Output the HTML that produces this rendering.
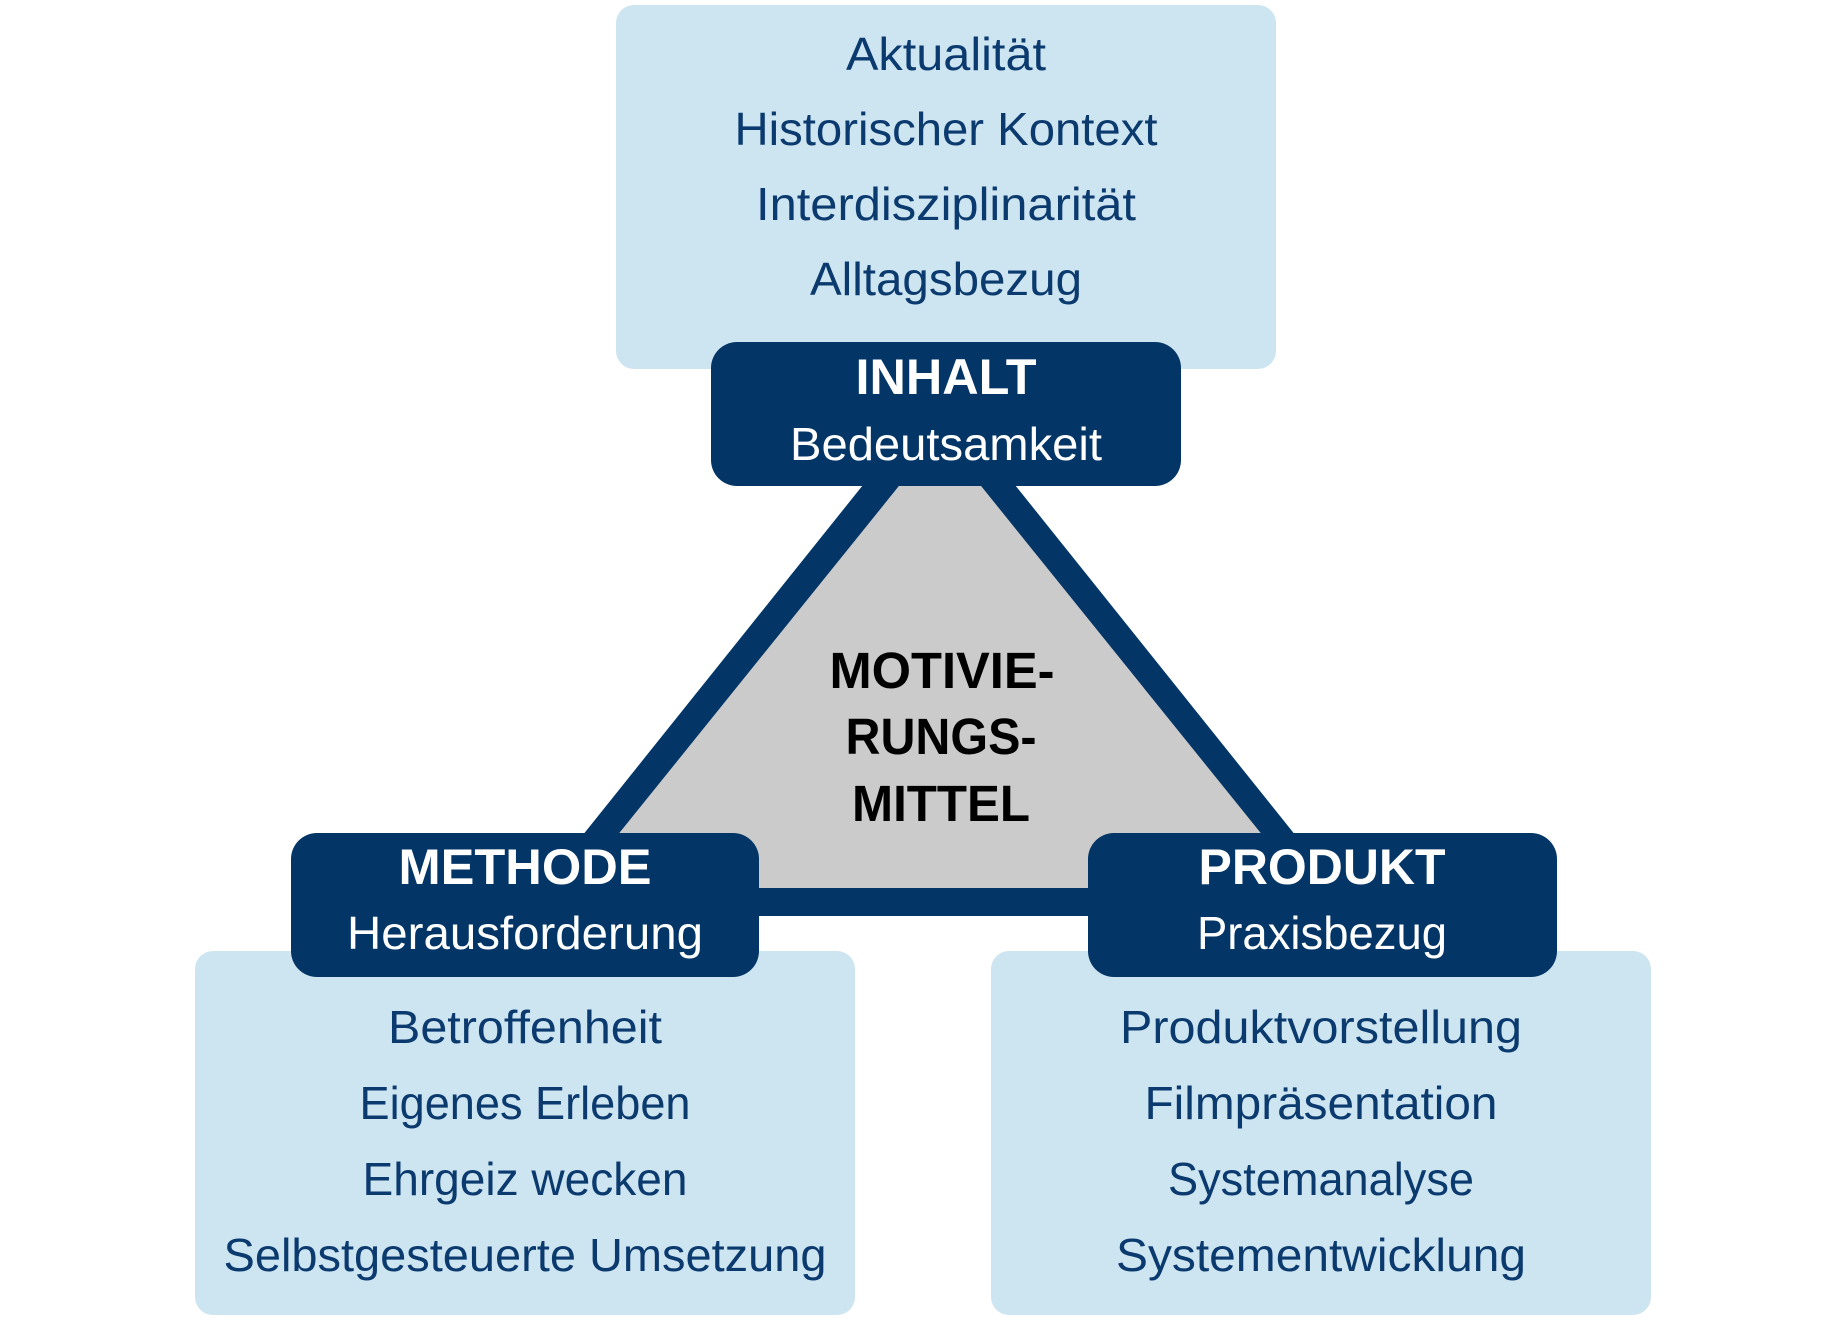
<!DOCTYPE html>
<html><head><meta charset="utf-8"><style>html,body{margin:0;padding:0;background:#fff}svg{display:block}</style></head>
<body>
<svg width="1843" height="1318" viewBox="0 0 1843 1318" xmlns="http://www.w3.org/2000/svg" font-family="'Liberation Sans', sans-serif">
<rect x="616" y="5" width="660" height="364" rx="18" fill="#cde4f1"/>
<rect x="195" y="951" width="660" height="364" rx="18" fill="#cde4f1"/>
<rect x="991" y="951" width="660" height="364" rx="18" fill="#cde4f1"/>
<polygon points="939,390 518,916 1360,916" fill="#033566"/>
<polygon points="940,435 575,888 1305,888" fill="#cbcbcb"/>
<rect x="711" y="342" width="470" height="144" rx="26" fill="#033566"/>
<rect x="291" y="833" width="468" height="144" rx="26" fill="#033566"/>
<rect x="1088" y="833" width="469" height="144" rx="26" fill="#033566"/>
<g fill="#0b3a6e" font-size="46" text-anchor="middle">
<text x="946" y="70" textLength="200" lengthAdjust="spacingAndGlyphs">Aktualität</text>
<text x="946" y="145" textLength="423" lengthAdjust="spacingAndGlyphs">Historischer Kontext</text>
<text x="946" y="220" textLength="380" lengthAdjust="spacingAndGlyphs">Interdisziplinarität</text>
<text x="946" y="295" textLength="272" lengthAdjust="spacingAndGlyphs">Alltagsbezug</text>
<text x="525" y="1043" textLength="274" lengthAdjust="spacingAndGlyphs">Betroffenheit</text>
<text x="525" y="1119" textLength="331" lengthAdjust="spacingAndGlyphs">Eigenes Erleben</text>
<text x="525" y="1195" textLength="325" lengthAdjust="spacingAndGlyphs">Ehrgeiz wecken</text>
<text x="525" y="1271" textLength="603" lengthAdjust="spacingAndGlyphs">Selbstgesteuerte Umsetzung</text>
<text x="1321" y="1043" textLength="402" lengthAdjust="spacingAndGlyphs">Produktvorstellung</text>
<text x="1321" y="1119" textLength="353" lengthAdjust="spacingAndGlyphs">Filmpräsentation</text>
<text x="1321" y="1195" textLength="306" lengthAdjust="spacingAndGlyphs">Systemanalyse</text>
<text x="1321" y="1271" textLength="410" lengthAdjust="spacingAndGlyphs">Systementwicklung</text>
</g>
<g fill="#ffffff" text-anchor="middle">
<text x="946" y="394" font-size="50" font-weight="bold" textLength="181" lengthAdjust="spacingAndGlyphs">INHALT</text>
<text x="946" y="460" font-size="46" textLength="312" lengthAdjust="spacingAndGlyphs">Bedeutsamkeit</text>
<text x="525" y="884" font-size="50" font-weight="bold" textLength="253" lengthAdjust="spacingAndGlyphs">METHODE</text>
<text x="525" y="949" font-size="46" textLength="356" lengthAdjust="spacingAndGlyphs">Herausforderung</text>
<text x="1322" y="884" font-size="50" font-weight="bold" textLength="247" lengthAdjust="spacingAndGlyphs">PRODUKT</text>
<text x="1322" y="949" font-size="46" textLength="250" lengthAdjust="spacingAndGlyphs">Praxisbezug</text>
</g>
<g fill="#000" text-anchor="middle" font-size="51" font-weight="bold">
<text x="942" y="688" textLength="225" lengthAdjust="spacingAndGlyphs">MOTIVIE-</text>
<text x="941" y="754" textLength="191" lengthAdjust="spacingAndGlyphs">RUNGS-</text>
<text x="941" y="821" textLength="178" lengthAdjust="spacingAndGlyphs">MITTEL</text>
</g>
</svg>
</body></html>
